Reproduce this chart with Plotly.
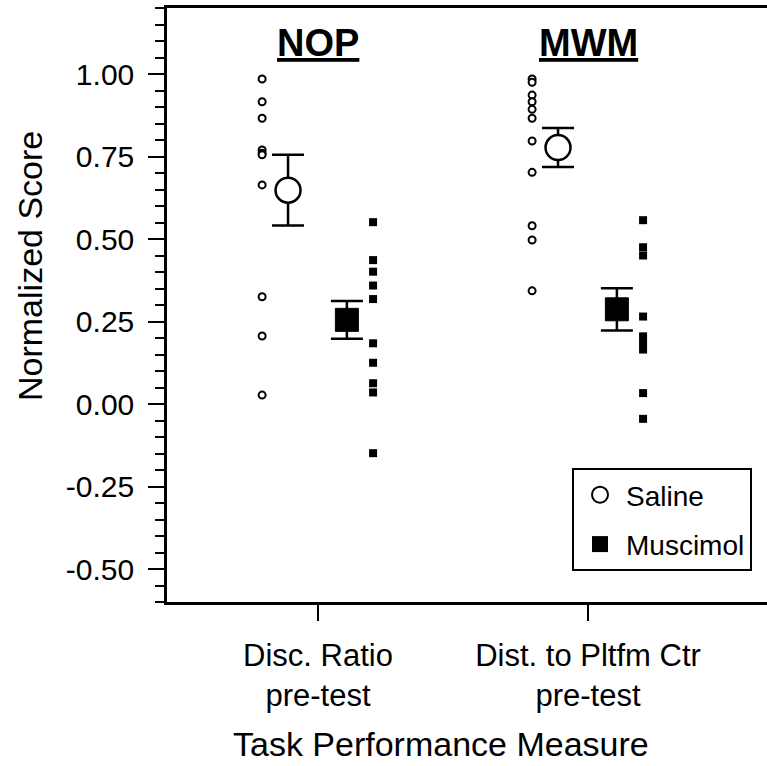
import plotly.graph_objects as go

# ---------------- data ----------------
tasks = ["NOP", "MWM"]
measure_labels = ["Disc. Ratio<br>pre-test", "Dist. to Pltfm Ctr<br>pre-test"]
task_pos = [1, 2]

nop_saline = [0.985, 0.916, 0.866, 0.770, 0.760, 0.755, 0.664, 0.325, 0.206, 0.027]
nop_muscimol = [0.551, 0.436, 0.401, 0.359, 0.318, 0.184, 0.125, 0.063, 0.035, -0.149]
mwm_saline = [0.985, 0.975, 0.936, 0.916, 0.893, 0.866, 0.797, 0.702, 0.540, 0.497, 0.343]
mwm_muscimol = [0.557, 0.475, 0.450, 0.265, 0.205, 0.185, 0.165, 0.033, -0.045]

saline_mean = [0.648, 0.777]
saline_sem = [0.107, 0.059]
muscimol_mean = [0.255, 0.287]
muscimol_sem = [0.057, 0.064]

y_ticks = [-0.50, -0.25, 0.00, 0.25, 0.50, 0.75, 1.00]
y_tick_labels = ["-0.50", "-0.25", "0.00", "0.25", "0.50", "0.75", "1.00"]

# ---------------- style ----------------
FONT = "Liberation Sans, Arial, sans-serif"
OFF_SAL_PTS = -0.207
OFF_SAL_MEAN = -0.111
OFF_MUS_MEAN = 0.107
OFF_MUS_PTS = 0.204

saline_pts = [nop_saline, mwm_saline]
muscimol_pts = [nop_muscimol, mwm_muscimol]

fig = go.Figure()

for i, p in enumerate(task_pos):
    fig.add_trace(go.Scatter(
        x=[p + OFF_SAL_PTS] * len(saline_pts[i]), y=saline_pts[i],
        mode="markers", showlegend=False, hoverinfo="y",
        marker=dict(symbol="circle", size=7, color="white",
                    line=dict(color="black", width=2)),
    ))
    fig.add_trace(go.Scatter(
        x=[p + OFF_MUS_PTS] * len(muscimol_pts[i]), y=muscimol_pts[i],
        mode="markers", showlegend=False, hoverinfo="y",
        marker=dict(symbol="square", size=8, color="black",
                    line=dict(color="black", width=0)),
    ))

fig.add_trace(go.Scatter(
    x=[p + OFF_SAL_MEAN for p in task_pos], y=saline_mean,
    mode="markers", showlegend=False,
    error_y=dict(type="data", array=saline_sem, visible=True,
                 color="black", thickness=2.5, width=16),
    marker=dict(symbol="circle", size=25, color="white",
                line=dict(color="black", width=2.5)),
))
fig.add_trace(go.Scatter(
    x=[p + OFF_MUS_MEAN for p in task_pos], y=muscimol_mean,
    mode="markers", showlegend=False,
    error_y=dict(type="data", array=muscimol_sem, visible=True,
                 color="black", thickness=2.5, width=16),
    marker=dict(symbol="square", size=23, color="black",
                line=dict(color="black", width=1)),
))

# legend entries
fig.add_trace(go.Scatter(
    x=[None], y=[None], mode="markers", name="Saline", legendgroup="s",
    marker=dict(symbol="circle", size=22, color="white",
                line=dict(color="black", width=2)),
))
fig.add_trace(go.Scatter(
    x=[None], y=[None], mode="markers", name="Muscimol", legendgroup="m",
    marker=dict(symbol="square", size=22, color="black"),
))

# task titles
for t, p in zip(tasks, task_pos):
    fig.add_annotation(
        x=p, y=0.941, xref="x", yref="paper", showarrow=False,
        text="<b><u>" + t + "</u></b>",
        font=dict(family=FONT, size=38, color="black"),
        xanchor="center", yanchor="middle",
    )

fig.add_annotation(
    x=-0.228, y=0.566, xref="paper", yref="paper", showarrow=False,
    text="Normalized Score", textangle=-90,
    font=dict(family=FONT, size=34, color="black"),
    xanchor="center", yanchor="middle",
)
fig.add_annotation(
    x=0.457, y=-0.239, xref="paper", yref="paper", showarrow=False,
    text="Task Performance Measure",
    font=dict(family=FONT, size=34, color="black"),
    xanchor="center", yanchor="middle",
)

fig.update_layout(
    width=767, height=766,
    margin=dict(l=167, r=0, t=8, b=164, autoexpand=False),
    paper_bgcolor="white", plot_bgcolor="white",
    font=dict(family=FONT, color="black"),
    legend=dict(
        x=0.675, y=0.2256, xanchor="left", yanchor="top",
        bordercolor="black", borderwidth=2, bgcolor="white",
        font=dict(family=FONT, size=28, color="black"),
        traceorder="grouped", tracegroupgap=10, itemwidth=42,
    ),
    xaxis=dict(
        range=[0.4407, 2.663], tickmode="array",
        tickvals=task_pos, ticktext=measure_labels,
        ticks="outside", ticklen=16, tickwidth=2, tickcolor="black",
        showline=True, linewidth=2.5, linecolor="black", mirror=True,
        showgrid=False, zeroline=False, automargin=False,
        tickfont=dict(family=FONT, size=31, color="black"),
        ticklabelstandoff=8,
    ),
    yaxis=dict(
        range=[-0.6, 1.2], tickmode="array", tickvals=y_ticks,
        ticktext=y_tick_labels,
        ticks="outside", ticklen=16, tickwidth=2, tickcolor="black",
        minor=dict(dtick=0.05, tick0=0, ticks="outside", ticklen=9,
                   tickwidth=2, tickcolor="black", showgrid=False),
        showline=True, linewidth=2.5, linecolor="black", mirror=False,
        showgrid=False, zeroline=False, automargin=False,
        tickfont=dict(family=FONT, size=30, color="black"),
        ticklabelstandoff=8,
    ),
)

fig.write_html(
    "out.html",
    config={"displayModeBar": False},
    post_script="document.body.style.margin='0';document.body.style.padding='0';",
)
